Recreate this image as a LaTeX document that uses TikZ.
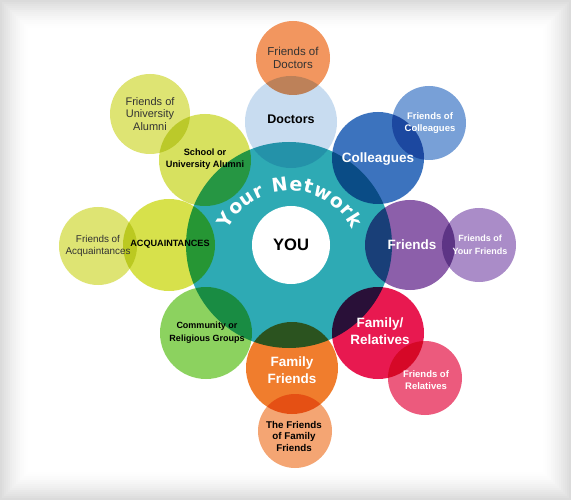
\documentclass[tikz,border=0pt]{standalone}
\usepackage{fontspec}
\setmainfont{Liberation Sans}
\newfontfamily\netfont{DejaVu Sans}
\usetikzlibrary{decorations.text}

\definecolor{netc}{RGB}{46,170,180}
\definecolor{docc}{RGB}{200,220,240}
\definecolor{fdocc}{RGB}{242,150,95}
\definecolor{colc}{RGB}{60,115,190}
\definecolor{fcolc}{RGB}{120,160,215}
\definecolor{fric}{RGB}{140,95,170}
\definecolor{ffric}{RGB}{170,140,200}
\definecolor{relc}{RGB}{232,25,80}
\definecolor{frelc}{RGB}{236,90,125}
\definecolor{famc}{RGB}{240,125,45}
\definecolor{ffamc}{RGB}{244,165,115}
\definecolor{comc}{RGB}{140,210,95}
\definecolor{acqc}{RGB}{215,225,75}
\definecolor{facqc}{RGB}{222,228,115}
\definecolor{schc}{RGB}{215,225,95}
\definecolor{funic}{RGB}{222,228,115}

\begin{document}
\begin{tikzpicture}[x=1pt, y=-1pt,
  circ/.style={circle, inner sep=0pt, minimum size=#1},
  big/.style={align=center, text=white, font=\bfseries\fontsize{13.5}{16.5}\selectfont},
  sml/.style={align=center, font=\bfseries\fontsize{9.2}{12.5}\selectfont},
  reg/.style={align=center, text=black!80, font=\fontsize{11}{12.5}\selectfont},
  wsm/.style={align=center, text=white, font=\bfseries\fontsize{9.5}{12.5}\selectfont},
]
  % background with soft grey edges
  \useasboundingbox (0,0) rectangle (571,500);
  \fill[white] (0,0) rectangle (571,500);
  \foreach \i in {0,...,13} {
    \pgfmathsetmacro\g{14*(1-\i/14)^1.5}
    \draw[draw=black!\g, line width=2.2pt] (\i*2+1,\i*2+1) rectangle (570-\i*2,499-\i*2);
  }

  % the circles
  \begin{scope}[blend group=multiply]
    \node[circ=206pt, fill=netc] (net) at (289,245) {};
    \node[circ=92pt, fill=docc] (doc) at (291,122) {};
    \node[circ=74pt, fill=fdocc] (fdoc) at (293,58) {};
    \node[circ=92pt, fill=colc] (col) at (378,158) {};
    \node[circ=74pt, fill=fcolc] (fcol) at (429,123) {};
    \node[circ=90pt, fill=fric] (fri) at (410,245) {};
    \node[circ=74pt, fill=ffric] (ffri) at (479,245) {};
    \node[circ=92pt, fill=relc] (rel) at (378,333) {};
    \node[circ=74pt, fill=frelc] (frel) at (425,378) {};
    \node[circ=92pt, fill=famc] (fam) at (292,368) {};
    \node[circ=74pt, fill=ffamc] (ffam) at (295,431) {};
    \node[circ=92pt, fill=comc] (com) at (206,333) {};
    \node[circ=92pt, fill=acqc] (acq) at (169,245) {};
    \node[circ=78pt, fill=facqc] (facq) at (98,246) {};
    \node[circ=92pt, fill=schc] (sch) at (205,160) {};
    \node[circ=80pt, fill=funic] (funi) at (150,114) {};
  \end{scope}

  \node[circ=78pt, fill=white] (you) at (291,245) {};
  \node[font=\bfseries\fontsize{16.6}{18}\selectfont] (tyou) at (you) {YOU};

  \path[decorate, decoration={text along path, text align=fit to path,
      text={|\netfont\bfseries\fontsize{19}{19}\selectfont\color{white}|Your Network}}]
    (290,261) ++(-153:70) arc[start angle=-153, end angle=-27, radius=70];

  % labels
  \node[big, text=black, font=\bfseries\fontsize{12.5}{15}\selectfont] (tdoc) at ([yshift=3pt]doc) {Doctors};
  \node[big] (tcol) at ([yshift=-1pt]col) {Colleagues};
  \node[big] (tfri) at ([xshift=2pt]fri) {Friends};
  \node[big] (trel) at ([xshift=2pt, yshift=2pt]rel) {Family/\\Relatives};
  \node[big] (tfam) at ([yshift=-2pt]fam) {Family\\Friends};
  \node[sml, font=\bfseries\fontsize{9.8}{11.5}\selectfont] (tffam) at ([xshift=-1pt, yshift=-5pt]ffam) {The Friends\\of Family\\Friends};
  \node[sml, font=\bfseries\fontsize{9}{13}\selectfont] (tcom) at ([xshift=1pt]com) {Community or\\Religious Groups};
  \node[sml, font=\bfseries\fontsize{9.1}{11}\selectfont] (tacq) at ([xshift=1pt, yshift=1pt]acq) {ACQUAINTANCES};
  \node[reg, font=\fontsize{9.9}{11.5}\selectfont] (tfacq) at (facq) {Friends of\\Acquaintances};
  \node[sml] (tsch) at ([yshift=1pt]sch) {School or\\University Alumni};
  \node[reg] (tfuni) at (funi) {Friends of\\University\\Alumni};
  \node[reg, font=\fontsize{11.5}{12.5}\selectfont] (tfdoc) at (fdoc) {Friends of\\Doctors};
  \node[wsm] (tfcol) at ([xshift=1pt]fcol) {Friends of\\Colleagues};
  \node[wsm, font=\bfseries\fontsize{9}{12.5}\selectfont] (tffri) at ([xshift=1pt]ffri) {Friends of\\Your Friends};
  \node[wsm] (tfrel) at ([xshift=1pt, yshift=-2pt]frel) {Friends of\\Relatives};
\end{tikzpicture}
\end{document}
